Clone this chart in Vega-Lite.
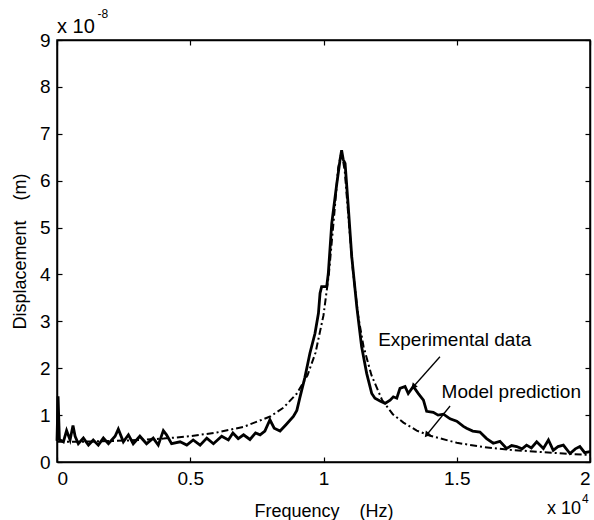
{
  "$schema": "https://vega.github.io/schema/vega-lite/v6.json",
  "width": 533,
  "height": 422,
  "autosize": {"type": "none"},
  "padding": {"left": 57, "top": 40, "right": 4, "bottom": 58},
  "background": "white",
  "config": {
    "font": "Liberation Sans",
    "view": {"stroke": "black", "strokeWidth": 1.5},
    "axis": {
      "grid": false,
      "domainColor": "black",
      "domainWidth": 1.5,
      "tickColor": "black",
      "tickWidth": 1.2,
      "tickSize": -5,
      "labelColor": "black",
      "labelFontSize": 19,
      "labelFont": "Liberation Sans",
      "titleFont": "Liberation Sans",
      "titleFontSize": 18,
      "titleFontWeight": "normal",
      "titleColor": "black"
    }
  },
  "datasets": {
    "model": [
      {"f": 0, "d": 0.43}, {"f": 0.1, "d": 0.434}, {"f": 0.2, "d": 0.446}, {"f": 0.3, "d": 0.467},
      {"f": 0.4, "d": 0.5}, {"f": 0.5, "d": 0.55}, {"f": 0.6, "d": 0.63}, {"f": 0.7, "d": 0.75},
      {"f": 0.8, "d": 0.97}, {"f": 0.85, "d": 1.16}, {"f": 0.9, "d": 1.46}, {"f": 0.94, "d": 1.85},
      {"f": 0.97, "d": 2.33}, {"f": 1.0, "d": 3.13}, {"f": 1.02, "d": 4.0}, {"f": 1.04, "d": 5.26},
      {"f": 1.055, "d": 6.27}, {"f": 1.068, "d": 6.62}, {"f": 1.08, "d": 6.19}, {"f": 1.095, "d": 5.12},
      {"f": 1.11, "d": 4.1}, {"f": 1.13, "d": 3.12}, {"f": 1.15, "d": 2.47}, {"f": 1.18, "d": 1.85},
      {"f": 1.22, "d": 1.32}, {"f": 1.26, "d": 1.02}, {"f": 1.3, "d": 0.84}, {"f": 1.35, "d": 0.67},
      {"f": 1.4, "d": 0.56}, {"f": 1.5, "d": 0.41}, {"f": 1.6, "d": 0.32}, {"f": 1.7, "d": 0.26},
      {"f": 1.8, "d": 0.22}, {"f": 1.9, "d": 0.18}, {"f": 2.0, "d": 0.15}
    ],
    "exp": [
      {"f": 0, "d": 0.45}, {"f": 0.004, "d": 1.4}, {"f": 0.009, "d": 0.48}, {"f": 0.024, "d": 0.43},
      {"f": 0.036, "d": 0.67}, {"f": 0.049, "d": 0.47}, {"f": 0.06, "d": 0.78}, {"f": 0.068, "d": 0.55},
      {"f": 0.08, "d": 0.39}, {"f": 0.099, "d": 0.51}, {"f": 0.118, "d": 0.36}, {"f": 0.136, "d": 0.47},
      {"f": 0.155, "d": 0.36}, {"f": 0.174, "d": 0.51}, {"f": 0.193, "d": 0.39}, {"f": 0.218, "d": 0.55},
      {"f": 0.23, "d": 0.7}, {"f": 0.249, "d": 0.43}, {"f": 0.268, "d": 0.58}, {"f": 0.286, "d": 0.39},
      {"f": 0.311, "d": 0.55}, {"f": 0.336, "d": 0.39}, {"f": 0.361, "d": 0.51}, {"f": 0.38, "d": 0.36},
      {"f": 0.399, "d": 0.67}, {"f": 0.411, "d": 0.58}, {"f": 0.43, "d": 0.39}, {"f": 0.462, "d": 0.43},
      {"f": 0.487, "d": 0.36}, {"f": 0.511, "d": 0.47}, {"f": 0.537, "d": 0.36}, {"f": 0.562, "d": 0.51},
      {"f": 0.587, "d": 0.39}, {"f": 0.618, "d": 0.55}, {"f": 0.643, "d": 0.47}, {"f": 0.66, "d": 0.62},
      {"f": 0.68, "d": 0.5}, {"f": 0.7, "d": 0.58}, {"f": 0.724, "d": 0.48}, {"f": 0.745, "d": 0.62},
      {"f": 0.762, "d": 0.58}, {"f": 0.78, "d": 0.66}, {"f": 0.799, "d": 0.9}, {"f": 0.815, "d": 0.72},
      {"f": 0.837, "d": 0.66}, {"f": 0.86, "d": 0.8}, {"f": 0.887, "d": 0.97}, {"f": 0.9, "d": 1.1},
      {"f": 0.912, "d": 1.39}, {"f": 0.93, "d": 1.8}, {"f": 0.949, "d": 2.32}, {"f": 0.968, "d": 2.74},
      {"f": 0.981, "d": 3.17}, {"f": 0.987, "d": 3.6}, {"f": 0.993, "d": 3.74}, {"f": 1.012, "d": 3.74},
      {"f": 1.018, "d": 4.02}, {"f": 1.031, "d": 5.09}, {"f": 1.05, "d": 5.94}, {"f": 1.062, "d": 6.44},
      {"f": 1.068, "d": 6.65}, {"f": 1.074, "d": 6.45}, {"f": 1.081, "d": 6.37}, {"f": 1.093, "d": 5.44},
      {"f": 1.106, "d": 4.38}, {"f": 1.125, "d": 3.31}, {"f": 1.143, "d": 2.46}, {"f": 1.162, "d": 1.89},
      {"f": 1.181, "d": 1.46}, {"f": 1.193, "d": 1.36}, {"f": 1.212, "d": 1.3}, {"f": 1.231, "d": 1.25},
      {"f": 1.25, "d": 1.32}, {"f": 1.262, "d": 1.39}, {"f": 1.275, "d": 1.36}, {"f": 1.287, "d": 1.57},
      {"f": 1.306, "d": 1.61}, {"f": 1.318, "d": 1.46}, {"f": 1.337, "d": 1.61}, {"f": 1.356, "d": 1.46},
      {"f": 1.375, "d": 1.32}, {"f": 1.387, "d": 1.08}, {"f": 1.412, "d": 1.06}, {"f": 1.43, "d": 1.0},
      {"f": 1.45, "d": 1.02}, {"f": 1.475, "d": 0.92}, {"f": 1.5, "d": 0.87}, {"f": 1.525, "d": 0.76},
      {"f": 1.537, "d": 0.72}, {"f": 1.56, "d": 0.66}, {"f": 1.587, "d": 0.64}, {"f": 1.612, "d": 0.5},
      {"f": 1.637, "d": 0.4}, {"f": 1.662, "d": 0.44}, {"f": 1.687, "d": 0.29}, {"f": 1.706, "d": 0.35},
      {"f": 1.725, "d": 0.33}, {"f": 1.745, "d": 0.28}, {"f": 1.762, "d": 0.36}, {"f": 1.78, "d": 0.3},
      {"f": 1.8, "d": 0.43}, {"f": 1.825, "d": 0.29}, {"f": 1.844, "d": 0.47}, {"f": 1.862, "d": 0.25},
      {"f": 1.88, "d": 0.33}, {"f": 1.9, "d": 0.36}, {"f": 1.925, "d": 0.18}, {"f": 1.945, "d": 0.28},
      {"f": 1.962, "d": 0.33}, {"f": 1.98, "d": 0.2}, {"f": 2.0, "d": 0.22}
    ],
    "arrows": [
      {"name": "exp", "fx": 1.437, "dy": 2.245, "tx": 1.337, "ty": 1.605},
      {"name": "model", "fx": 1.475, "dy": 1.194, "tx": 1.387, "ty": 0.576}
    ],
    "labels": [
      {"f": 1.205, "d": 2.6, "text": "Experimental data"},
      {"f": 1.443, "d": 1.5, "text": "Model prediction"}
    ],
    "topbase": [{"f": 0.0, "d": 9.27, "text": "x 10"}],
    "topexp": [{"f": 0.152, "d": 9.55, "text": "-8"}],
    "botbase": [{"f": 1.839, "d": -1.0, "text": "x 10"}],
    "botexp": [{"f": 1.97, "d": -0.78, "text": "4"}]
  },
  "resolve": {"axis": {"x": "independent", "y": "independent"}},
  "layer": [
    {
      "data": {"name": "model"},
      "mark": {"type": "line", "color": "black", "strokeWidth": 2, "strokeDash": [7, 3, 2, 3]},
      "encoding": {
        "x": {"field": "f", "type": "quantitative",
              "scale": {"domain": [0, 2], "nice": false, "zero": false},
              "axis": {"orient": "bottom", "values": [0, 0.5, 1, 1.5, 2], "labelExpr": "'' + datum.value",
                       "labelPadding": 12, "title": "Frequency\u00a0\u00a0\u00a0\u00a0(Hz)", "titlePadding": 14}},
        "y": {"field": "d", "type": "quantitative",
              "scale": {"domain": [0, 9], "nice": false, "zero": false},
              "axis": {"orient": "left", "values": [0, 1, 2, 3, 4, 5, 6, 7, 8, 9],
                       "labelPadding": 12, "title": "Displacement\u00a0\u00a0\u00a0\u00a0(m)", "titlePadding": 10}}
      }
    },
    {
      "data": {"name": "exp"},
      "mark": {"type": "line", "color": "black", "strokeWidth": 2.8},
      "encoding": {
        "x": {"field": "f", "type": "quantitative",
              "axis": {"orient": "top", "values": [0, 0.5, 1, 1.5, 2], "labels": false, "title": null}},
        "y": {"field": "d", "type": "quantitative",
              "axis": {"orient": "right", "values": [0, 1, 2, 3, 4, 5, 6, 7, 8, 9], "labels": false, "title": null}}
      }
    },
    {
      "data": {"name": "arrows"},
      "mark": {"type": "rule", "color": "black", "strokeWidth": 1.3},
      "encoding": {
        "x": {"field": "fx", "type": "quantitative", "axis": null},
        "y": {"field": "dy", "type": "quantitative", "axis": null},
        "x2": {"field": "tx"},
        "y2": {"field": "ty"}
      }
    },
    {
      "data": {"name": "arrows"},
      "transform": [{"filter": "datum.name == 'exp'"}],
      "mark": {"type": "point", "shape": "triangle-up", "filled": true, "color": "black", "size": 45, "opacity": 1, "angle": 222},
      "encoding": {
        "x": {"field": "tx", "type": "quantitative", "axis": null},
        "y": {"field": "ty", "type": "quantitative", "axis": null}
      }
    },
    {
      "data": {"name": "arrows"},
      "transform": [{"filter": "datum.name == 'model'"}],
      "mark": {"type": "point", "shape": "triangle-up", "filled": true, "color": "black", "size": 45, "opacity": 1, "angle": 219},
      "encoding": {
        "x": {"field": "tx", "type": "quantitative", "axis": null},
        "y": {"field": "ty", "type": "quantitative", "axis": null}
      }
    },
    {
      "data": {"name": "labels"},
      "mark": {"type": "text", "align": "left", "baseline": "middle", "fontSize": 19, "color": "black"},
      "encoding": {
        "x": {"field": "f", "type": "quantitative", "axis": null},
        "y": {"field": "d", "type": "quantitative", "axis": null},
        "text": {"field": "text"}
      }
    },
    {
      "data": {"name": "topbase"},
      "mark": {"type": "text", "align": "left", "baseline": "middle", "fontSize": 20, "color": "black"},
      "encoding": {
        "x": {"field": "f", "type": "quantitative", "axis": null},
        "y": {"field": "d", "type": "quantitative", "axis": null},
        "text": {"field": "text"}
      }
    },
    {
      "data": {"name": "botbase"},
      "mark": {"type": "text", "align": "left", "baseline": "middle", "fontSize": 18, "color": "black"},
      "encoding": {
        "x": {"field": "f", "type": "quantitative", "axis": null},
        "y": {"field": "d", "type": "quantitative", "axis": null},
        "text": {"field": "text"}
      }
    },
    {
      "data": {"name": "topexp"},
      "mark": {"type": "text", "align": "left", "baseline": "middle", "fontSize": 12, "color": "black"},
      "encoding": {
        "x": {"field": "f", "type": "quantitative", "axis": null},
        "y": {"field": "d", "type": "quantitative", "axis": null},
        "text": {"field": "text"}
      }
    },
    {
      "data": {"name": "botexp"},
      "mark": {"type": "text", "align": "left", "baseline": "middle", "fontSize": 12, "color": "black"},
      "encoding": {
        "x": {"field": "f", "type": "quantitative", "axis": null},
        "y": {"field": "d", "type": "quantitative", "axis": null},
        "text": {"field": "text"}
      }
    }
  ]
}
